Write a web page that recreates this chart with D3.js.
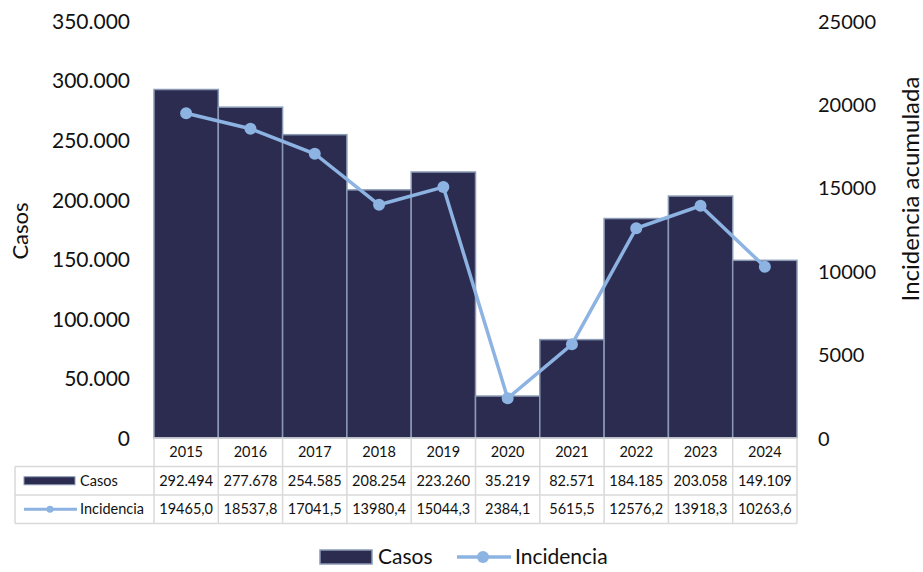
<!DOCTYPE html>
<html lang="es">
<head>
<meta charset="UTF-8">
<title>Casos e incidencia</title>
<script src="https://cdn.jsdelivr.net/npm/d3@7"></script>
<style>
  body { margin: 0; background: #fff; }
  text { font-family: Lato, "Open Sans", sans-serif; fill: #111; }
</style>
</head>
<body>
<script>
const years = ['2015', '2016', '2017', '2018', '2019', '2020', '2021', '2022', '2023', '2024'];
const casos = [292494, 277678, 254585, 208254, 223260, 35219, 82571, 184185, 203058, 149109];
const incidencia = [19465.0, 18537.8, 17041.5, 13980.4, 15044.3, 2384.1, 5615.5, 12576.2, 13918.3, 10263.6];
const casosTicks = [0, 50000, 100000, 150000, 200000, 250000, 300000, 350000];
const incTicks = [0, 5000, 10000, 15000, 20000, 25000];

const width = 923, height = 572;
const plotLeft = 154, plotRight = 797, plotTop = 21, plotBottom = 438;
const rowH = 28.5;
const barColor = '#2c2c50', barStroke = '#8a9ab4', lineColor = '#8db3e2', gridColor = '#d9d9d9';

const fmtCasos = d => d3.format(',')(d).replace(/,/g, '.');
const fmtInc = d => d3.format('.1f')(d).replace('.', ',');

const svg = d3.select('body').append('svg')
  .attr('width', width).attr('height', height);

const x = d3.scaleBand().domain(years).range([plotLeft, plotRight]).padding(0);
const y = d3.scaleLinear().domain([0, 350000]).range([plotBottom, plotTop]);
const y2 = d3.scaleLinear().domain([0, 25000]).range([plotBottom, plotTop]);

// left axis
const yAxis = d3.axisLeft(y).tickValues(casosTicks).tickFormat(fmtCasos).tickSize(0).tickPadding(0);
svg.append('g').attr('transform', 'translate(130,0)').call(yAxis)
  .call(g => g.select('.domain').remove())
  .selectAll('text').style('font-size', '21px').attr('dy', '0.35em');

// right axis
const y2Axis = d3.axisRight(y2).tickValues(incTicks).tickFormat(d3.format('d')).tickSize(0).tickPadding(0);
svg.append('g').attr('transform', 'translate(818,0)').call(y2Axis)
  .call(g => g.select('.domain').remove())
  .selectAll('text').style('font-size', '20px').attr('dy', '0.35em');

svg.append('text').attr('transform', 'translate(28,231) rotate(-90)')
  .attr('text-anchor', 'middle').style('font-size', '22px').text('Casos');
svg.append('text').attr('transform', 'translate(919,189) rotate(-90)')
  .attr('text-anchor', 'middle').style('font-size', '24px').text('Incidencia acumulada');

// bars
svg.append('g').selectAll('rect').data(casos).join('rect')
  .attr('x', (d, i) => x(years[i]))
  .attr('y', d => y(d))
  .attr('width', x.bandwidth())
  .attr('height', d => plotBottom - y(d))
  .attr('fill', barColor)
  .attr('stroke', barStroke)
  .attr('stroke-width', 1.5);

// line
const line = d3.line()
  .x((d, i) => x(years[i]) + x.bandwidth() / 2)
  .y(d => y2(d));
svg.append('path').datum(incidencia)
  .attr('d', line).attr('fill', 'none')
  .attr('stroke', lineColor).attr('stroke-width', 3.5);
svg.append('g').selectAll('circle').data(incidencia).join('circle')
  .attr('cx', (d, i) => x(years[i]) + x.bandwidth() / 2)
  .attr('cy', d => y2(d))
  .attr('r', 6)
  .attr('fill', lineColor);

// data table
const table = svg.append('g');
const tableLeft = 15;
const r0 = plotBottom, r1 = plotBottom + rowH, r2 = plotBottom + 2 * rowH, r3 = plotBottom + 3 * rowH;
const hLines = [[plotLeft, plotRight, r0], [tableLeft, plotRight, r1], [tableLeft, plotRight, r2], [tableLeft, plotRight, r3]];
table.selectAll('line.h').data(hLines).join('line')
  .attr('x1', d => d[0]).attr('x2', d => d[1])
  .attr('y1', d => d[2]).attr('y2', d => d[2])
  .attr('stroke', gridColor).attr('stroke-width', 1.5);
const vx = years.map(yr => x(yr)).concat([plotRight]);
table.selectAll('line.v').data(vx).join('line')
  .attr('x1', d => d).attr('x2', d => d)
  .attr('y1', r0).attr('y2', r3)
  .attr('stroke', gridColor).attr('stroke-width', 1.5);
table.append('line').attr('x1', tableLeft).attr('x2', tableLeft)
  .attr('y1', r1).attr('y2', r3).attr('stroke', gridColor).attr('stroke-width', 1.5);

table.selectAll('text.yr').data(years).join('text')
  .attr('x', d => x(d) + x.bandwidth() / 2).attr('y', r0 + rowH / 2)
  .attr('dy', '0.35em').attr('text-anchor', 'middle').style('font-size', '14.5px').text(d => d);
table.selectAll('text.c').data(casos).join('text')
  .attr('x', (d, i) => x(years[i]) + x.bandwidth() / 2).attr('y', r1 + rowH / 2)
  .attr('dy', '0.35em').attr('text-anchor', 'middle').style('font-size', '14.5px').text(fmtCasos);
table.selectAll('text.inc').data(incidencia).join('text')
  .attr('x', (d, i) => x(years[i]) + x.bandwidth() / 2).attr('y', r2 + rowH / 2)
  .attr('dy', '0.35em').attr('text-anchor', 'middle').style('font-size', '14.5px').text(fmtInc);

// table row keys
table.append('rect').attr('x', 24).attr('y', r1 + rowH / 2 - 4).attr('width', 51).attr('height', 8)
  .attr('fill', barColor).attr('stroke', barStroke).attr('stroke-width', 1);
table.append('text').attr('x', 80).attr('y', r1 + rowH / 2).attr('dy', '0.35em')
  .style('font-size', '14.5px').text('Casos');
table.append('line').attr('x1', 24).attr('x2', 77).attr('y1', r2 + rowH / 2).attr('y2', r2 + rowH / 2)
  .attr('stroke', lineColor).attr('stroke-width', 3);
table.append('circle').attr('cx', 50).attr('cy', r2 + rowH / 2).attr('r', 3.5).attr('fill', lineColor);
table.append('text').attr('x', 80).attr('y', r2 + rowH / 2).attr('dy', '0.35em')
  .style('font-size', '14.5px').text('Incidencia');

// legend
const legend = svg.append('g');
const ly = 557;
legend.append('rect').attr('x', 320).attr('y', ly - 7).attr('width', 52).attr('height', 14)
  .attr('fill', barColor).attr('stroke', barStroke).attr('stroke-width', 1.5);
legend.append('text').attr('x', 378).attr('y', ly).attr('dy', '0.35em')
  .style('font-size', '21px').text('Casos');
legend.append('line').attr('x1', 457).attr('x2', 511).attr('y1', ly).attr('y2', ly)
  .attr('stroke', lineColor).attr('stroke-width', 3.5);
legend.append('circle').attr('cx', 483).attr('cy', ly).attr('r', 6).attr('fill', lineColor);
legend.append('text').attr('x', 515).attr('y', ly).attr('dy', '0.35em')
  .style('font-size', '21px').text('Incidencia');
</script>
</body>
</html>
